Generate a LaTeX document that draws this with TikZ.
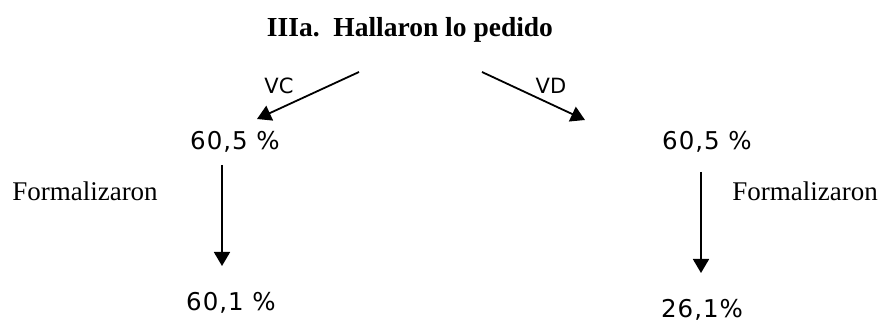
\documentclass[tikz,border=0pt]{standalone}
\usepackage{fontspec}
\setmainfont{Liberation Serif}
\newfontfamily\valfont[LetterSpace=4]{DejaVu Sans}
\newfontfamily\tagfont{DejaVu Sans}
\usetikzlibrary{arrows.meta}
\begin{document}
\begin{tikzpicture}[x=1pt,y=-1pt,
  title/.style={font=\fontsize{27.5}{30}\selectfont\bfseries, inner sep=0pt},
  value/.style={font=\valfont\fontsize{24.5}{28}\selectfont, inner sep=0pt},
  branch/.style={font=\tagfont\fontsize{21}{24}\selectfont, inner sep=0pt},
  note/.style={font=\fontsize{27}{30}\selectfont, inner sep=0pt},
  flow/.style={line width=1.8pt, -{Triangle[width=16pt,length=14pt]}}]
  \useasboundingbox (0,0) rectangle (879,323);

  % heading
  \node[title, anchor=base] (head) at (410,37) {IIIa.\ \ Hallaron lo pedido};

  % first level
  \node[branch] (vc) at (279,86) {VC};
  \node[branch] (vd) at (551,86) {VD};
  \node[value] (l1) at (235,142) {60,5 \%};
  \node[value] (r1) at (707,142) {60,5 \%};

  % second level
  \node[note, anchor=base] (lf) at (85,201) {Formalizaron};
  \node[note, anchor=base] (rf) at (805,201) {Formalizaron};
  \node[value] (l2) at (231,303) {60,1 \%};
  \node[value] (r2) at (702,310) {26,1\%};

  % arrow ends
  \coordinate (ls) at (359,72);
  \coordinate (le) at (257,119);
  \coordinate (rs) at (482,72);
  \coordinate (re) at (585,120);
  \coordinate (lvs) at (222,165);
  \coordinate (lve) at (222,266);
  \coordinate (rvs) at (701,172);
  \coordinate (rve) at (701,273);

  \draw[flow] (ls) -- (le);
  \draw[flow] (rs) -- (re);
  \draw[flow] (lvs) -- (lve);
  \draw[flow] (rvs) -- (rve);
\end{tikzpicture}
\end{document}
